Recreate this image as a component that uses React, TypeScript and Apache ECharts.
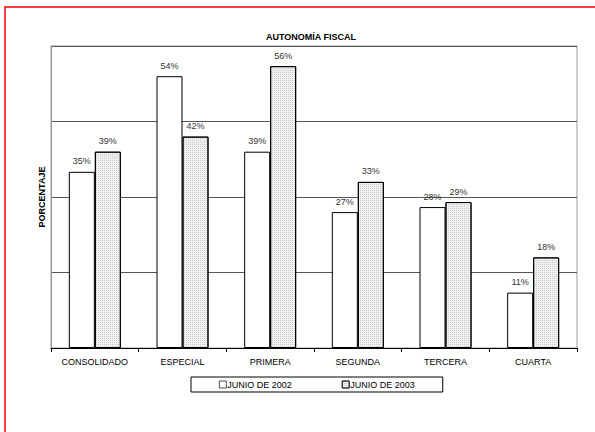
import React, { useEffect, useRef } from "react";
import * as echarts from "echarts";

const categories = ["CONSOLIDADO", "ESPECIAL", "PRIMERA", "SEGUNDA", "TERCERA", "CUARTA"];
const junio2002 = [35, 54, 39, 27, 28, 11];
const junio2003 = [39, 42, 56, 33, 29, 18];
const seriesNames = ["JUNIO DE 2002", "JUNIO DE 2003"];

export default function App() {
  const ref = useRef<HTMLDivElement>(null);
  useEffect(() => {
    if (!ref.current) return;
    const chart = echarts.init(ref.current, undefined, { renderer: "svg" });
    const font = "'Liberation Sans', Arial, sans-serif";
    const label = {
      show: true,
      position: "top",
      distance: 6,
      formatter: "{c}%",
      fontFamily: font,
      fontSize: 9,
      color: "#333",
    };
    chart.setOption({
      animation: false,
      backgroundColor: "#fff",
      textStyle: { fontFamily: font },
      title: {
        text: "AUTONOMÍA FISCAL",
        left: 306,
        textAlign: "center",
        top: 27,
        textStyle: { fontFamily: font, fontSize: 9, fontWeight: "bold", color: "#000" },
      },
      grid: { left: 51, top: 46, right: 18, bottom: 84, show: true, borderColor: "#999", borderWidth: 1, backgroundColor: "transparent" },
      legend: {
        left: 191,
        top: 377,
        padding: [3, 28, 3, 28],
        itemGap: 50,
        itemWidth: 7,
        itemHeight: 7,
        borderColor: "#000",
        borderWidth: 1,
        icon: "rect",
        itemStyle: { borderWidth: 0.7 },
        textStyle: { fontFamily: font, fontSize: 9, color: "#000", padding: [0, 0, 0, -4] },
        data: seriesNames,
      },
      xAxis: {
        type: "category",
        data: categories,
        axisLine: { lineStyle: { color: "#000", width: 1 } },
        axisTick: { show: true, length: 4, lineStyle: { color: "#000" } },
        axisLabel: { fontFamily: font, fontSize: 9, color: "#000", margin: 9 },
      },
      yAxis: {
        type: "value",
        min: 0,
        max: 60,
        interval: 15,
        name: "PORCENTAJE",
        nameLocation: "middle",
        nameGap: 5,
        nameRotate: 90,
        nameTextStyle: { fontFamily: font, fontSize: 9, fontWeight: "bold", color: "#000" },
        axisLine: { show: true, lineStyle: { color: "#999" } },
        axisTick: { show: false },
        axisLabel: { show: false },
        splitLine: { lineStyle: { color: "#555", width: 1 } },
      },
      series: [
        {
          name: seriesNames[0],
          type: "bar",
          data: junio2002,
          barWidth: 26,
          barGap: "0%",
          itemStyle: { color: "#fff", borderColor: "#000", borderWidth: 1 },
          label,
        },
        {
          name: seriesNames[1],
          type: "bar",
          data: junio2003,
          barWidth: 26,
          itemStyle: {
            color: "#f0f0f0",
            borderColor: "#000",
            borderWidth: 1,
            decal: {
              symbol: "rect",
              symbolSize: 1,
              dashArrayX: [1, 1],
              dashArrayY: [1, 1],
              color: "rgba(150,150,150,0.4)",
            },
          },
          label,
        },
      ],
      graphic: [
        {
          type: "rect",
          shape: { x: 5, y: 7, width: 700, height: 600 },
          style: { fill: "none", stroke: "#f00", lineWidth: 1.5 },
          silent: true,
          z: 100,
        },
      ],
    });
    return () => chart.dispose();
  }, []);
  return <div ref={ref} style={{ position: "fixed", left: 0, top: 0, width: 595, height: 432 }} />;
}
